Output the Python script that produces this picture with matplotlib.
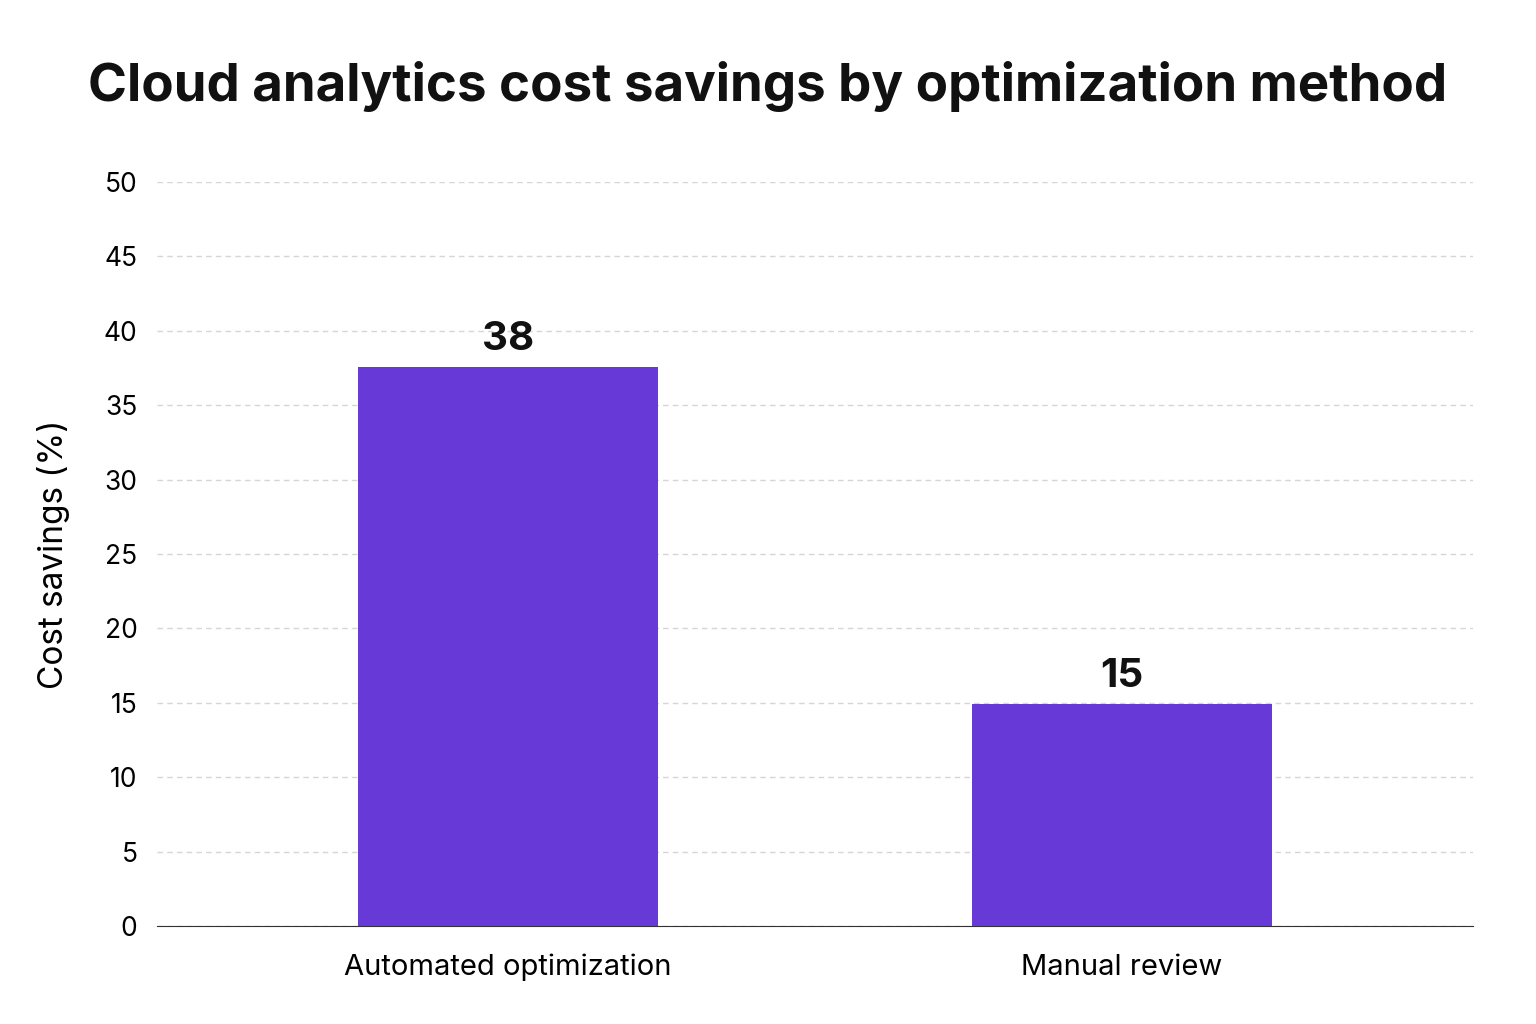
import matplotlib
matplotlib.use("Agg")
import matplotlib.pyplot as plt

categories = ["Automated optimization", "Manual review"]
values = [37.6, 14.9]
yticks = [0, 5, 10, 15, 20, 25, 30, 35, 40, 45, 50]

plt.rcParams['font.family'] = ['Inter', 'DejaVu Sans']
fig = plt.figure(figsize=(15.36, 10.24), dpi=100)
ax = fig.add_axes([157/1536, 1-926/1024, 1316/1536, 744/1024])
x = list(range(len(categories)))
bars = ax.bar(x, values, width=0.49, color="#673AD8", zorder=3)
for xi, v in zip(x, values):
    ax.text(xi, v + 0.6, f"{v:.0f}", ha="center", va="bottom", fontsize=29, fontweight="bold", color="#111111")
ax.set_xlim(-0.572, 1.572)
ax.set_ylim(0, 50)
ax.set_yticks(yticks)
ax.set_xticks(x)
ax.set_xticklabels(categories, fontsize=21)
ax.tick_params(axis='y', labelsize=19, length=0, pad=14)
ax.tick_params(axis='x', length=0, pad=20)
ax.grid(axis='y', linestyle=(0, (4, 3)), color="#d6d6d6", linewidth=1, zorder=0)
for s in ["top", "right", "left"]:
    ax.spines[s].set_visible(False)
ax.spines["bottom"].set_color("#333333")
ax.set_ylabel("Cost savings (%)", fontsize=24, labelpad=24)
fig.text(0.5, 1-87/1024, "Cloud analytics cost savings by optimization method", ha="center", va="center", fontsize=38, fontweight="bold", color="#111111")
fig.savefig("out.png", dpi=100, facecolor="white")
